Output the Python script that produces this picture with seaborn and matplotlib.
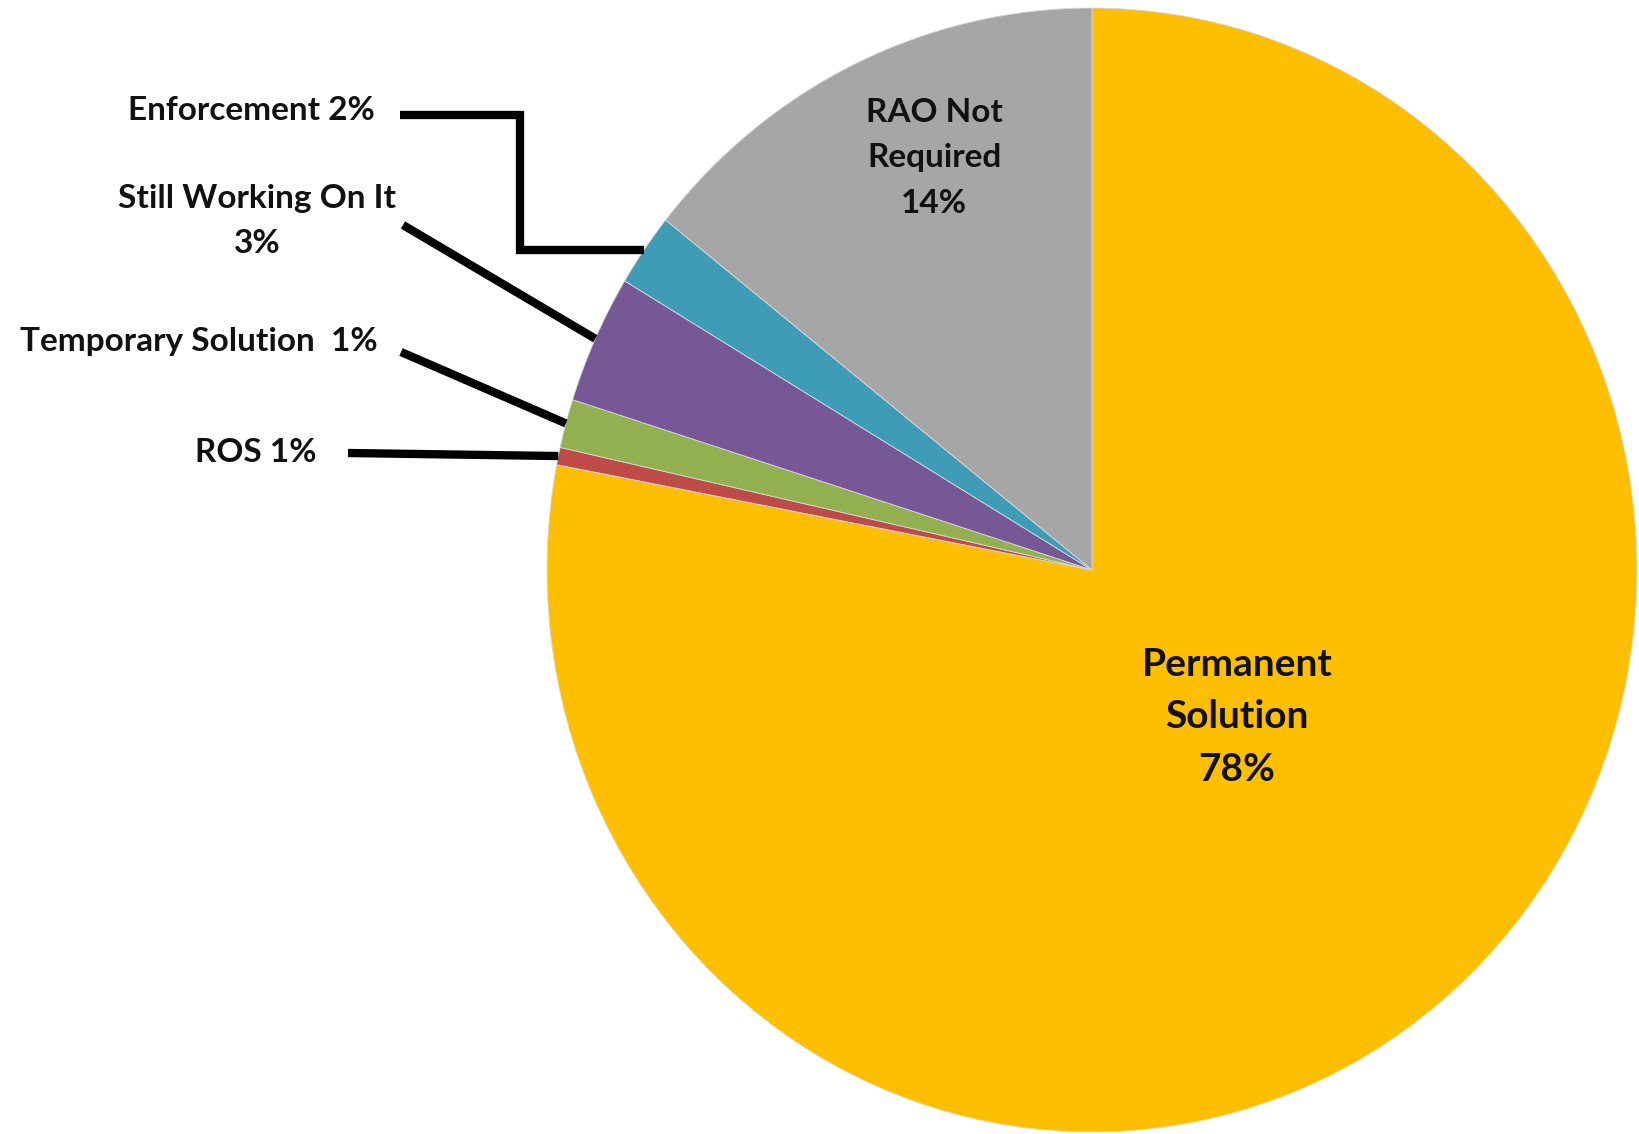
import numpy as np
import matplotlib
matplotlib.use('Agg')
import matplotlib.pyplot as plt
import seaborn as sns

# Slice values (clockwise from 12 o'clock) and the labels as printed on the chart
categories = ['Permanent Solution', 'ROS', 'Temporary Solution', 'Still Working On It',
              'Enforcement', 'RAO Not Required']
values = [78.0, 0.5, 1.4, 3.7, 2.1, 14.3]
label_texts = ['Permanent\nSolution\n78%', 'ROS 1%', 'Temporary Solution  1%',
               'Still Working On It\n3%', 'Enforcement 2%', 'RAO Not\nRequired\n14%']
colors = ['#FDBF00', '#BE4B48', '#92B050', '#765896', '#3F9CB6', '#A6A6A6']

sns.set_theme(style='white')
plt.rcParams['font.family'] = ['Lato', 'DejaVu Sans']

W, H = 1640, 1134
fig = plt.figure(figsize=(W / 100, H / 100), dpi=100)
ax = fig.add_axes([0, 0, 1, 1])

# pie centre / radii in pixels (reference is slightly stretched vertically)
cx, cy, rx, ry = 1092, 570, 545, 562


def px(x, y):
    return (x - cx) / rx, (cy - y) / ry


wedges, _ = ax.pie(values, colors=colors, startangle=90, counterclock=False,
                   wedgeprops=dict(edgecolor='#d9d9d9', linewidth=0.6))
ax.set_aspect('auto')
ax.set_xlim(-cx / rx, (W - cx) / rx)
ax.set_ylim(-(H - cy) / ry, cy / ry)
ax.axis('off')

fs = 24
txt = dict(ha='center', va='center', fontweight='bold', color='#111111')

# labels inside the two big slices
ax.text(*px(1237, 717), label_texts[0], fontsize=28, linespacing=1.62, **txt)
ax.text(*px(934, 158), label_texts[5], fontsize=fs, linespacing=1.68, **txt)


def rim(w):
    a = np.deg2rad((w.theta1 + w.theta2) / 2)
    return np.cos(a), np.sin(a)


lw = 6
# ROS
ax.text(*px(256, 452), label_texts[1], fontsize=fs, **txt)
x0, y0 = px(348, 453)
x1, y1 = rim(wedges[1])
ax.plot([x0, x1], [y0, y1], color='black', lw=lw, solid_capstyle='butt')

# Temporary Solution
ax.text(*px(199, 342), label_texts[2], fontsize=fs, **txt)
x0, y0 = px(401, 352)
x1, y1 = rim(wedges[2])
ax.plot([x0, x1], [y0, y1], color='black', lw=lw, solid_capstyle='butt')

# Still Working On It
ax.text(*px(257, 221), label_texts[3], fontsize=fs, linespacing=1.68, **txt)
x0, y0 = px(403, 225)
x1, y1 = rim(wedges[3])
ax.plot([x0, x1], [y0, y1], color='black', lw=lw, solid_capstyle='butt')

# Enforcement (elbow leader)
ax.text(*px(251, 110), label_texts[4], fontsize=fs, **txt)
x1, y1 = rim(wedges[4])
xa, ya = px(400, 115)
xb, _ = px(520, 115)
ax.plot([xa, xb, xb, x1], [ya, ya, y1, y1], color='black', lw=lw,
        solid_joinstyle='miter', solid_capstyle='butt')

fig.savefig('out.png', dpi=100)
